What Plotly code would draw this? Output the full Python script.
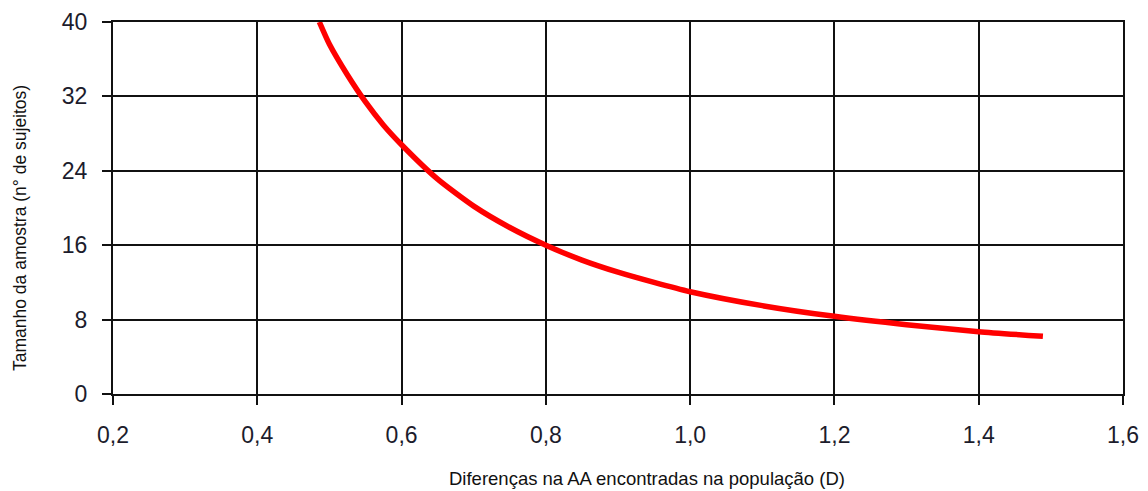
import plotly.graph_objects as go

# Data
d_values = [0.486, 0.5, 0.525, 0.55, 0.575, 0.6, 0.65, 0.7, 0.75, 0.8, 0.85,
            0.9, 0.95, 1.0, 1.1, 1.2, 1.3, 1.4, 1.489]
n_values = [40.0, 37.6, 34.3, 31.4, 28.9, 26.8, 23.1, 20.2, 17.9, 16.0, 14.4,
            13.1, 12.0, 11.0, 9.5, 8.35, 7.45, 6.7, 6.2]

x_ticks = [0.2, 0.4, 0.6, 0.8, 1.0, 1.2, 1.4, 1.6]
y_ticks = [0, 8, 16, 24, 32, 40]

x_title = "Diferenças na AA encontradas na população (D)"
y_title = "Tamanho da amostra (n° de sujeitos)"

fig = go.Figure()
fig.add_trace(go.Scatter(
    x=d_values, y=n_values, mode="lines",
    line=dict(color="#ff0000", width=5.5, shape="spline", smoothing=0.6),
    showlegend=False, hoverinfo="skip",
))

tick_font = dict(family="Liberation Sans, Arial, sans-serif", size=23, color="#1c1c2c")

# page body has an 8px margin, so the figure is offset by 8px
fig.update_layout(
    width=1140, height=483,
    margin=dict(l=105, r=25, t=14, b=97),
    paper_bgcolor="white", plot_bgcolor="white",
    separators=",.",
    xaxis=dict(
        range=[0.2, 1.6], tickvals=x_ticks, tickformat=".1f", automargin=False,
        showgrid=True, gridcolor="#111111", gridwidth=2,
        showline=True, linecolor="#111111", linewidth=2, mirror=True,
        ticks="outside", ticklen=9, tickwidth=2, tickcolor="#111111",
        tickfont=tick_font, ticklabelstandoff=10, zeroline=False,
    ),
    yaxis=dict(
        range=[0, 40], tickvals=y_ticks, automargin=False,
        showgrid=True, gridcolor="#111111", gridwidth=2,
        showline=True, linecolor="#111111", linewidth=2, mirror=True,
        ticks="outside", ticklen=9, tickwidth=2, tickcolor="#111111",
        tickfont=tick_font, ticklabelstandoff=10, zeroline=False,
    ),
    annotations=[
        dict(text=x_title, xref="paper", yref="paper", x=(647 - 113) / 1010, y=-(478 - 394) / 372,
             xanchor="center", yanchor="middle", showarrow=False,
             font=dict(family="Liberation Sans, Arial, sans-serif", size=18.5, color="#111111")),
        dict(text=y_title, xref="paper", yref="paper", x=-(113 - 20) / 1010, y=(394 - 228) / 372,
             xanchor="center", yanchor="middle", showarrow=False, textangle=-90,
             font=dict(family="Liberation Sans, Arial, sans-serif", size=17.5, color="#111111")),
    ],
)

fig.write_html("out.html")
